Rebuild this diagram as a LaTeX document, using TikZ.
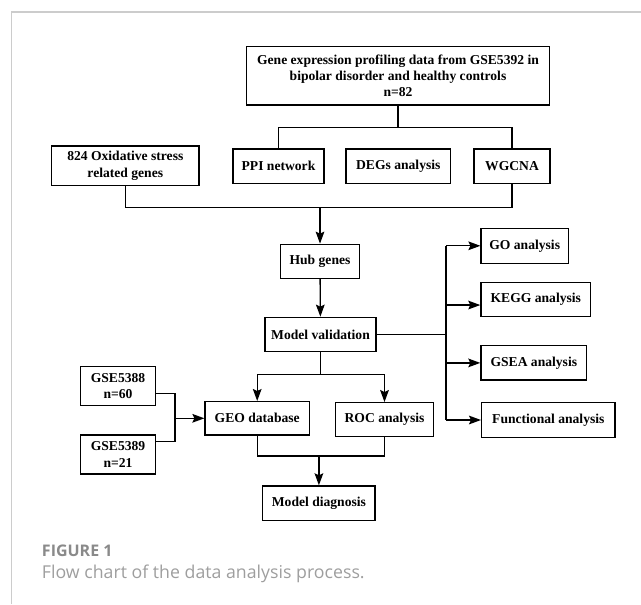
\documentclass[tikz,border=0pt]{standalone}
\usepackage{fontspec}
\usepackage{tikz}
\usetikzlibrary{arrows.meta}
\newfontfamily\boxfont{Liberation Serif}
\newfontfamily\capfont{Open Sans}
\definecolor{capgray}{HTML}{9E9E9E}
\definecolor{figgray}{HTML}{8A8A8A}
\definecolor{framegray}{HTML}{CCCCCC}

\begin{document}
\begin{tikzpicture}[x=0.75pt, y=-0.75pt,
		box/.style={draw, line width=1pt, align=center, inner sep=0pt, font=\boxfont\bfseries\fontsize{10.2}{12.2}\selectfont},
		wh/.style 2 args={minimum width=#1*0.75pt, minimum height=#2*0.75pt},
		line/.style={line width=1pt},
		flow/.style={line width=1pt, -{Stealth[length=9pt, width=6.5pt, inset=1.5pt]}}]
		\useasboundingbox (0, 0) rectangle (641, 604);
		% frame
		\draw [framegray, line width=0.8pt] (11.7, 604) -- (11.7, 12) -- (641, 12);
		% boxes
		\node [box, wh={302.6}{58.3}] (data) at (398, 75.8) {Gene expression profiling data from GSE5392 in\\bipolar disorder and healthy controls\\n=82};
		\node [box, wh={147.3}{39.3}] (oxid) at (125.3, 165.7) {824 Oxidative stress\\related genes};
		\node [box, wh={91}{34.3}] (ppi) at (278.5, 166.2) {PPI network};
		\node [box, wh={104.7}{34.3}] (degs) at (398.3, 166.2) {DEGs analysis};
		\node [box, wh={76}{34.3}] (wgcna) at (512, 166.2) {WGCNA};
		\node [box, wh={78.6}{34}] (hub) at (320, 261.3) {Hub genes};
		\node [box, wh={111}{34.4}] (valid) at (320.5, 334.5) {Model validation};
		\node [box, wh={87.3}{35}] (go) at (524.7, 245.8) {GO analysis};
		\node [box, wh={109.7}{34}] (kegg) at (535.8, 299.7) {KEGG analysis};
		\node [box, wh={105.7}{34.3}] (gsea) at (533.8, 362.9) {GSEA analysis};
		\node [box, wh={133.3}{34.6}] (func) at (548.3, 420) {Functional analysis};
		\node [box, wh={104.3}{33.3}] (geo) at (257.2, 418.3) {GEO database};
		\node [box, wh={97.6}{34}] (roc) at (384.5, 419.7) {ROC analysis};
		\node [box, wh={74.6}{38.6}] (gseA) at (118, 386) {GSE5388\\n=60};
		\node [box, wh={74.6}{39}] (gseB) at (118, 454.5) {GSE5389\\n=21};
		\node [box, wh={112.3}{34.7}] (diag) at (318.9, 503.3) {Model diagnosis};
		% top split
		\draw [line] (data.south) -- ++(0, 21.7) coordinate (topbus);
		\draw [line] (ppi.north) |- (topbus) -| (wgcna.north);
		% merge into hub genes
		\coordinate (hubbus) at (320, 207.3);
		\draw [line] (oxid.south) |- (hubbus) -| (wgcna.south);
		\draw [flow] (hubbus) -- (hub.north);
		\draw [flow] (hub) -- (valid);
		% validation split
		\draw [line] (valid.south) -- ++(0, 22.3) coordinate (validbus);
		\draw [flow] (validbus) -| (geo.north);
		\draw [flow] (validbus) -| (roc.north);
		% analyses on the right
		\coordinate (rbus) at (446, 0);
		\draw [line] (valid.east) -- (valid.east -| rbus);
		\draw [line] (rbus |- go.west) -- (rbus |- func.west);
		\draw [flow] (rbus |- go.west) -- (go.west);
		\draw [flow] ([yshift=-4pt]rbus |- kegg.west) -- ([yshift=-4pt]kegg.west);
		\draw [flow] (rbus |- gsea.west) -- (gsea.west);
		\draw [flow] (rbus |- func.west) -- (func.west);
		% datasets into GEO
		\coordinate (lbus) at (175, 0);
		\draw [line] ([yshift=-5.5pt]gseA.east) -| (lbus |- geo.west) |- ([yshift=9.6pt]gseB.east);
		\draw [flow] (lbus |- geo.west) -- (geo.west);
		% merge into diagnosis
		\coordinate (diagbus) at (318.9, 456);
		\draw [line] (geo.south) |- (diagbus) -| (roc.south);
		\draw [flow] (diagbus) -- (diag.north);
		% caption
		\node [anchor=base west, inner sep=0pt, figgray, font=\capfont\bfseries\fontsize{12}{14}\selectfont] (fig) at (41.7, 556.7) {FIGURE 1};
		\node [anchor=base west, inner sep=0pt, capgray, font=\capfont\fontsize{13.3}{16}\selectfont] (cap) at (41.7, 578.3) {Flow chart of the data analysis process.};
	\end{tikzpicture}
\end{document}
